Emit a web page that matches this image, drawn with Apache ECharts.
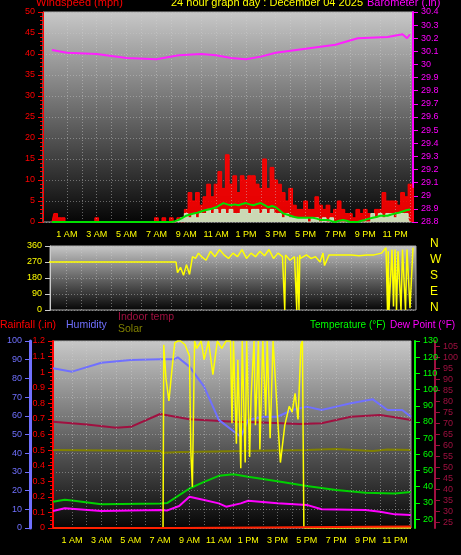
<!DOCTYPE html>
<html><head><meta charset="utf-8">
<script src="https://cdn.jsdelivr.net/npm/echarts@6/dist/echarts.min.js"></script>
<style>html,body{margin:0;padding:0;background:#000;}#c{width:461px;height:555px;}</style>
</head><body><div id="c"></div>
<script>
const hourTicks=[0,1,2,3,4,5,6,7,8,9,10,11,12,13,14,15,16,17,18,19,20,21,22,23,24];
const hourLabels=[1,3,5,7,9,11,13,15,17,19,21,23];
const labelNames={1:'1 AM',3:'3 AM',5:'5 AM',7:'7 AM',9:'9 AM',11:'11 AM',13:'1 PM',15:'3 PM',17:'5 PM',19:'7 PM',21:'9 PM',23:'11 PM'};
// wind gust (mph), 0.25 h steps from 0
const gust=[0,2,1,1,0,0,0,0,0,0,0,0,1,0,0,0,0,0,0,0,0,0,0,0,0,0,0,0,1,0,1,0,
1,0,1,0,3,7,5,7,4,6,9,6,9,12,8,16,9,11,7,11,10,11,11,9,8,15,8,13,10,9,7,5,8,4,3,3,5,3,3,6,4,3,4,2,3,5,3,2,2,1,3,2,3,2,1,3,3,7,5,5,5,4,7,6,9,8,8];
const avgWind=[0,0,0,0,0,0,0,0,0,0,0,0,0,0,0,0,0,0,0,0,0,0,0,0,0,0,0,0,0,0,0,0,
0,0.2,0.5,1,1.5,1.8,2,2.2,2.5,2.8,3,3.2,3.5,4,4.5,4.2,4,4.2,4,4.3,4.5,4.2,4,4.3,4.5,4,3.5,3.8,3.5,2.8,2,1.8,1.5,1.2,1,1,1,1,1,0.8,0.5,0.5,0.5,0.2,0,0.3,0.5,0.3,0,0,0,0.3,0.5,0.8,1,1.2,1.5,1.5,1.5,1.8,2,2.2,2.5,2.8,3];
const speed=[0,0,0,0,0,0,0,0,0,0,0,0,0,0,0,0,0,0,0,0,0,0,0,0,0,0,0,0,0,0,0,0,
0,0,0.5,1,2,1,2,1,2,2,3,2,3,2,3,2,3,2,2,3,3,2,3,3,2,3,2,3,2,2,1,2,1,1,1,1,1,0,1,1,0,1,0,1,0,0,0,0,0,0,0,0,0,0,2,1,2,1,2,2,1,2,2,2,1];
const baroT=[0,1,3,5,7,8.5,10,11,12,13,14,15,17,19,20.5,22.5,23.5,23.8,24];
const baroV=[30.11,30.09,30.08,30.05,30.04,30.07,30.08,30.07,30.05,30.04,30.06,30.09,30.12,30.15,30.2,30.21,30.23,30.2,30.23];
const dirT=[-0.5,8.3,8.4,8.6,8.8,9,9.2,9.4,9.6,9.8,10,10.3,10.6,10.9,11.2,11.5,11.8,12.1,12.4,12.7,13,13.3,13.6,13.9,14.2,14.5,14.8,15.1,15.4,15.55,15.6,15.7,15.9,16.2,16.35,16.4,16.5,16.55,16.6,16.8,17,17.3,17.6,17.9,18.1,18.2,18.5,19,19.5,20,20.5,21,21.5,22,22.3,22.4,22.45,22.5,22.7,22.8,22.9,23,23.1,23.3,23.4,23.6,23.7,23.9,24.1];
const dirV=[270,270,210,240,195,255,200,300,290,320,300,280,330,300,340,310,290,320,300,340,290,320,300,330,305,340,290,320,300,0,310,320,280,300,0,300,0,310,290,300,310,290,300,270,320,250,310,310,310,310,305,310,310,320,350,0,330,0,340,20,340,0,330,0,340,0,340,10,350];
const humT=[-0.3,1,3,5,7,8,8.2,9,10,11,12.5,13,14,15,16,17,18,19,20,21.5,22.5,23.5,24.1];
const humV=[85.4,83.6,88.4,89.8,90.2,90.2,91.3,86.3,75.6,57.8,48.8,57.8,59.5,59.5,63.1,64.9,63.1,64.9,66.7,68.8,63.1,63.1,59.5];
const tempT=[-0.3,0.5,1,3,7,7.5,9,10,11,12,13,15,17,19,21,23,24.1];
const tempV=[30.7,32,31.5,29.1,29.7,30,38.9,43,46.7,47.7,46.1,43.4,40.5,37.9,36.2,35.8,36.8];
const dewT=[-0.3,0.5,3,7,7.5,8.3,9,10,11,11.5,12.5,13,15,17,18,21,22,23,24.1];
const dewV=[30.2,31.5,30.2,30.7,30.5,32.5,36.7,35.2,33.7,32.2,33.7,34.9,33.7,33,31,30.7,29.9,28.7,28.4];
const inT=[-0.3,2,4,5,7,9,12,14,16.5,18,20,22,23,24.1];
const inV=[70.8,69.5,68.1,68.5,74.3,71.9,70.8,70.4,69.8,70.1,73.1,73.9,72.8,71.6];
const solarT=[-0.3,7.2,7.25,7.4,7.6,7.8,8,8.2,8.4,8.7,9,9.1,9.2,9.35,9.5,9.8,10,10.3,10.6,10.9,11.2,11.5,11.8,11.9,12,12.2,12.3,12.5,12.6,12.8,12.9,13.1,13.2,13.4,13.5,13.7,13.8,14,14.2,14.3,14.5,14.7,14.8,15,15.2,15.5,15.8,16,16.2,16.4,16.6,16.7,16.8,24.1];
const solarV=[0,0,98,80,68,84,99,100,100,98,92,40,22,100,96,100,90,100,82,100,96,100,100,56,100,45,90,32,100,35,100,38,70,100,55,100,42,100,60,100,48,100,100,60,35,55,65,62,72,58,98,100,0,0];
const rainT=[-0.3,8.4,8.41,24.1];
const rainV=[0,0,0.01,0.01];
const olive=[[-0.3,41.7],[7,41.2],[7.2,40.2],[8.4,40.7],[8.5,41.7],[17,41.7],[17.1,42.7],[19,42.2],[21.5,41.2],[22.5,42],[24.1,41.7]];

const zipTV=(t,v)=>t.map((x,i)=>[x,v[i]]);
const step=(a)=>a.map((v,i)=>[i*0.25,v]);
const bg=()=>new echarts.graphic.LinearGradient(0,0,0,1,[{offset:0,color:'#c8c8c8'},{offset:0.5,color:'#666'},{offset:1,color:'#050505'}]);
const dotted={show:true,lineStyle:{color:'rgba(200,200,200,0.45)',type:[1,2]}};
const xAx=(gi,min,max,lab)=>({type:'value',gridIndex:gi,min:min,max:max,
 axisLine:{show:false},axisTick:{show:false},
 splitLine:{show:false},
 axisLabel:{show:lab,customValues:hourLabels,color:'#ffff00',fontSize:9,fontFamily:'Arial',formatter:v=>labelNames[v]||''}});
const chart=echarts.init(document.getElementById('c'));
const font='Arial';
const txt=(x,y,t,c,size)=>({type:'text',left:x,top:y,style:{text:t,fill:c,font:(size||11)+'px '+font}});
const vlines=(xi,yi)=>({type:'line',xAxisIndex:xi,yAxisIndex:yi,silent:true,data:[],
 markLine:{symbol:'none',silent:true,label:{show:false},lineStyle:{color:'rgba(210,210,210,0.45)',type:[1,2],width:1},data:hourTicks.slice(1).map(h=>({xAxis:h}))}});
const line0={onZero:false};
chart.setOption({
 backgroundColor:'#000',animation:false,
 graphic:[
  txt(36,-3,'Windspeed (mph)','#ff0000',11),
  txt(171,-3,'24 hour graph day : December 04 2025','#ffff00',11),
  txt(367,-3,'Barometer (.in)','#ff00ff',11),
  {type:'group',children:['N','W','S','E','N'].map((s,i)=>({type:'text',left:430,top:238+i*16,style:{text:s,fill:'#ffff00',font:'12px '+font}}))},
  txt(0,320,'Rainfall (.in)','#ff0000',10.5),
  txt(66,320,'Humidity','#7070ff',10.5),
  txt(118,312,'Indoor temp','#a01040',10.5),
  txt(118,324,'Solar','#808000',10.5),
  txt(310,320,'Temperature (°F)','#00ff00',10),
  txt(390,320,'Dew Point (°F)','#ff00ff',10)
 ],
 grid:[
  {left:43,top:12,width:370,height:210,show:true,backgroundColor:bg(),borderColor:'#aaa',borderWidth:1},
  {left:50,top:246,width:366,height:64,show:true,backgroundColor:bg(),borderColor:'#aaa',borderWidth:1},
  {left:53,top:341,width:360,height:187,show:true,backgroundColor:bg(),borderColor:'#aaa',borderWidth:1}
 ],
 xAxis:[xAx(0,-0.6,24.2,true),xAx(1,-0.1,24.3,false),xAx(2,-0.3,24.1,true)],
 yAxis:[
  {type:'value',gridIndex:0,min:0,max:50,interval:5,position:'left',axisLine:{show:true,onZero:false,lineStyle:{color:'#ff0000'}},axisTick:{show:true,lineStyle:{color:'#ff0000'}},minorTick:{show:true,splitNumber:5,lineStyle:{color:'#ff0000'}},axisLabel:{color:'#ff0000',fontSize:9,fontFamily:font},splitLine:dotted},
  {type:'value',gridIndex:0,min:28.8,max:30.4,interval:0.1,position:'right',axisLine:{show:true,onZero:false,lineStyle:{color:'#ff00ff',width:2}},axisTick:{show:true,lineStyle:{color:'#ff00ff'}},axisLabel:{color:'#ff00ff',fontSize:9,fontFamily:font,formatter:v=>String(parseFloat(v.toFixed(1)))},splitLine:{show:false}},
  {type:'value',gridIndex:1,min:0,max:360,interval:90,position:'left',axisLine:{show:true,onZero:false,lineStyle:{color:'#ccc'}},axisTick:{show:true,lineStyle:{color:'#ccc'}},axisLabel:{color:'#ffff00',fontSize:9,fontFamily:font},splitLine:dotted},
  {type:'value',gridIndex:2,min:0,max:100,interval:10,position:'left',offset:23,axisLine:{show:true,onZero:false,lineStyle:{color:'#7070ff',width:3}},axisTick:{show:true,lineStyle:{color:'#7070ff'}},axisLabel:{color:'#7070ff',fontSize:9,fontFamily:font},splitLine:dotted},
  {type:'value',gridIndex:2,min:0,max:1.2,interval:0.1,position:'left',offset:0,axisLine:{show:true,onZero:false,lineStyle:{color:'#ff0000',width:2}},axisTick:{show:true,lineStyle:{color:'#ff0000'}},minorTick:{show:true,splitNumber:4,lineStyle:{color:'#ff0000'}},axisLabel:{color:'#ff0000',fontSize:9,fontFamily:font,formatter:v=>String(parseFloat(v.toFixed(1)))},splitLine:{show:false}},
  {type:'value',gridIndex:2,min:14.5,max:130,position:'right',offset:4,axisLine:{show:true,onZero:false,lineStyle:{color:'#00ff00',width:2}},axisTick:{show:true,customValues:[20,30,40,50,60,70,80,90,100,110,120,130],lineStyle:{color:'#00ff00'}},axisLabel:{customValues:[20,30,40,50,60,70,80,90,100,110,120,130],color:'#00ff00',fontSize:9,fontFamily:font},splitLine:{show:false}},
  {type:'value',gridIndex:2,min:22.5,max:107.5,position:'right',offset:24,axisLine:{show:true,onZero:false,lineStyle:{color:'#a01040',width:2}},axisTick:{show:true,customValues:[25,30,35,40,45,50,55,60,65,70,75,80,85,90,95,100,105],lineStyle:{color:'#a01040'}},axisLabel:{customValues:[25,30,35,40,45,50,55,60,65,70,75,80,85,90,95,100,105],color:'#a01040',fontSize:9,fontFamily:font},splitLine:{show:false}},
  {type:'value',gridIndex:2,min:0,max:100,show:false}
 ],
 series:[
  vlines(0,0),vlines(1,2),vlines(2,3),
  {type:'line',xAxisIndex:0,yAxisIndex:0,data:step(gust),step:'middle',showSymbol:false,lineStyle:{color:'#ff0000',width:1},areaStyle:{color:'#ff0000',opacity:0.9},z:3},
  {type:'line',xAxisIndex:0,yAxisIndex:0,data:step(speed),step:'middle',showSymbol:false,lineStyle:{color:'#c8f0c8',width:1},areaStyle:{color:'#c8f0c8',opacity:0.9},z:4},
  {type:'line',xAxisIndex:0,yAxisIndex:0,data:step(avgWind),showSymbol:false,lineStyle:{color:'#00e000',width:2},z:5},
  {type:'line',xAxisIndex:0,yAxisIndex:1,data:zipTV(baroT,baroV),showSymbol:false,lineStyle:{color:'#ff20ff',width:2},z:5},
  {type:'line',xAxisIndex:1,yAxisIndex:2,data:zipTV(dirT,dirV),showSymbol:false,lineStyle:{color:'#ffff00',width:1.5},z:5},
  {type:'line',xAxisIndex:2,yAxisIndex:3,data:olive,showSymbol:false,lineStyle:{color:'#808000',width:2},z:4},
  {type:'line',xAxisIndex:2,yAxisIndex:6,data:zipTV(inT,inV),showSymbol:false,lineStyle:{color:'#a01040',width:2},z:4},
  {type:'line',xAxisIndex:2,yAxisIndex:3,data:zipTV(humT,humV),showSymbol:false,lineStyle:{color:'#7070ff',width:2},z:4},
  {type:'line',xAxisIndex:2,yAxisIndex:5,data:zipTV(tempT,tempV),showSymbol:false,lineStyle:{color:'#00d000',width:2},z:4},
  {type:'line',xAxisIndex:2,yAxisIndex:6,data:zipTV(dewT,dewV),showSymbol:false,lineStyle:{color:'#ff00ff',width:2},z:4},
  {type:'line',xAxisIndex:2,yAxisIndex:7,data:zipTV(solarT,solarV),showSymbol:false,lineStyle:{color:'#ffff00',width:1.5},z:5},
  {type:'line',xAxisIndex:2,yAxisIndex:4,data:zipTV(rainT,rainV),showSymbol:false,lineStyle:{color:'#ff2000',width:2},z:6}
 ]
});
</script></body></html>
